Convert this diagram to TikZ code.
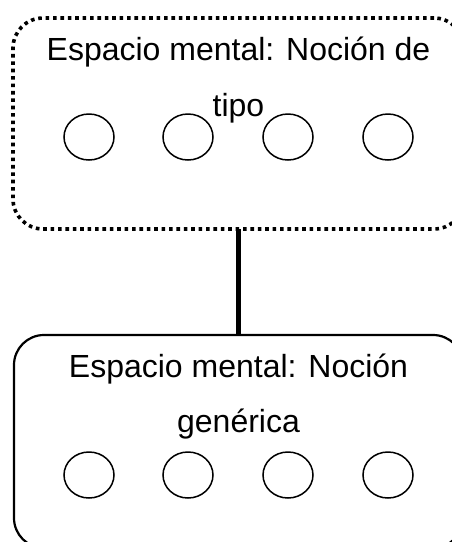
\documentclass[tikz,border=0pt]{standalone}
\usepackage{fontspec}
\setmainfont{Liberation Sans}
\usetikzlibrary{shapes.geometric}
\begin{document}
\begin{tikzpicture}[x=1pt,y=-1pt,
  spacebox/.style={draw,rounded corners=30pt,inner sep=0pt,outer sep=0pt},
  dotbox/.style={spacebox,line width=3.6pt,dash pattern=on 3.6pt off 3.8pt},
  solidbox/.style={spacebox,line width=2.2pt},
  elem/.style={draw,ellipse,line width=1.5pt,minimum width=50pt,minimum height=46pt,inner sep=0pt},
  lbl/.style={inner sep=0pt,anchor=base,font=\fontsize{32}{38}\selectfont},
  link/.style={line width=4.8pt}]
\useasboundingbox (0,0) rectangle (452,542);
\node[dotbox,minimum width=451pt,minimum height=211pt] (top) at (238.5,123.5) {};
\node[solidbox,minimum width=449pt,minimum height=213pt] (bot) at (238.5,441.5) {};
\node[lbl] (t1) at (238.5,60) {Espacio mental: Noción de};
\node[lbl] (t2) at (238.5,116) {tipo};
\node[lbl] (b1) at (238.5,377) {Espacio mental: Noción};
\node[lbl] (b2) at (238.5,432) {genérica};
\foreach \i/\x in {1/89,2/188,3/288,4/388}{
  \node[elem] (a\i) at (\x,137) {};
  \node[elem] (c\i) at (\x,475) {};
}
\draw[link] (top.south) -- (bot.north);
\end{tikzpicture}
\end{document}
